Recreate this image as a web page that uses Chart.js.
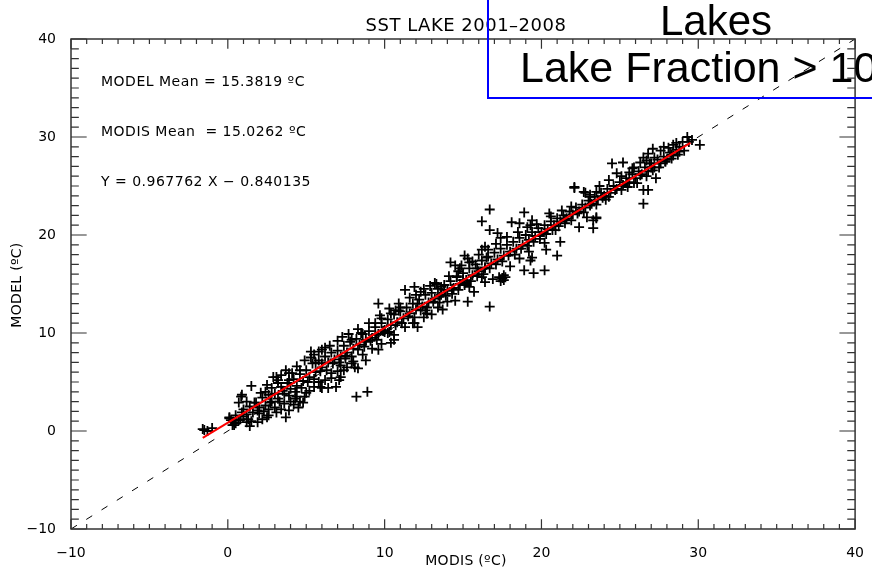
<!DOCTYPE html>
<html>
<head>
<meta charset="utf-8">
<script src="https://cdn.jsdelivr.net/npm/chart.js@4/dist/chart.umd.min.js"></script>
<style>
  html, body { margin: 0; padding: 0; background: #fff; }
  #c { display: block; }
</style>
</head>
<body>
<canvas id="c" width="872" height="571"></canvas>
<script>
// axis ticks (both axes share the same range)
const tickValues = [-10, 0, 10, 20, 30, 40];

// MODIS (x) vs MODEL (y) lake SST
const modisModel = [
  // main band along the fit
  [0.2,1.1],[0.5,1.6],[0.8,1.2],[1.0,2.2],[1.2,1.7],[1.4,2.5],[1.6,1.9],[1.8,2.9],[2.0,2.4],[2.2,3.4],
  [2.4,2.6],[2.6,3.7],[2.8,3.0],[3.0,3.8],[3.2,3.3],[3.4,4.5],[3.6,3.8],[3.8,4.9],[4.0,4.3],[4.2,5.3],
  [4.4,4.6],[4.6,5.8],[4.8,5.1],[5.0,6.2],[5.2,5.5],[5.4,6.9],[5.6,6.0],[5.8,7.2],[6.0,6.5],[6.2,7.6],
  [6.4,7.0],[6.6,8.0],[6.8,7.3],[7.0,8.2],[7.2,7.6],[7.4,8.7],[7.6,8.0],[7.8,9.1],[8.0,8.4],[8.2,9.4],
  [8.4,8.8],[8.6,9.9],[8.8,9.1],[9.0,10.2],[9.2,9.5],[9.4,10.6],[9.6,9.9],[9.8,11.0],[10.0,10.3],[10.2,11.4],
  [10.4,10.8],[10.6,11.9],[10.8,11.1],[11.0,12.2],[11.2,11.5],[11.4,12.6],[11.6,12.0],[11.8,13.0],[12.0,12.4],[12.2,13.4],
  [12.4,12.7],[12.6,13.9],[12.8,13.1],[13.0,14.1],[13.2,13.5],[13.4,14.5],[13.6,13.9],[13.8,14.9],[14.0,14.3],[14.2,15.3],
  [14.4,14.6],[14.6,15.8],[14.8,15.0],[15.0,16.1],[15.2,15.4],[15.4,16.6],[15.6,15.9],[15.8,17.0],[16.0,16.3],[16.2,17.4],
  [16.4,16.7],[16.6,17.8],[16.8,17.1],[17.0,18.2],[17.2,17.5],[17.4,18.6],[17.6,17.9],[17.8,19.0],[18.0,18.3],[18.2,19.3],
  [18.4,18.6],[18.6,19.7],[18.8,19.0],[19.0,20.0],[19.2,19.5],[19.4,20.3],[19.6,19.9],[19.8,20.7],[20.0,20.3],[20.2,21.0],
  [20.4,20.6],[20.6,21.4],[20.8,21.0],[21.0,21.7],[21.2,21.4],[21.4,22.0],[21.6,21.7],[21.8,22.4],[22.0,22.1],[22.2,22.8],
  [22.4,22.4],[22.6,23.1],[22.8,22.8],[23.0,23.5],[23.2,23.2],[23.4,23.9],[23.6,23.6],[23.8,24.3],[24.0,24.0],[24.2,24.7],
  [24.4,24.3],[24.6,25.0],[24.8,24.7],[25.0,25.4],[25.2,25.1],[25.4,25.8],[25.6,25.4],[25.8,26.2],[26.0,25.8],[26.2,26.5],
  [26.4,26.2],[26.6,26.9],[26.8,26.5],[27.0,27.3],[27.2,26.9],[27.4,27.7],[27.6,27.3],[27.8,28.0],[28.0,27.7],[28.2,28.4],
  [28.4,28.1],[28.6,28.7],[28.8,28.5],
  [0.3,0.6],[0.9,1.9],[1.3,1.2],[1.9,2.1],[2.3,2.0],[2.7,2.9],[3.3,3.0],[3.5,4.1],[3.9,3.6],[4.3,4.0],
  [4.7,4.4],[5.1,5.0],[5.5,5.3],[5.9,6.1],[6.3,6.2],[6.7,6.9],[7.1,7.0],[7.5,7.7],[7.9,7.6],[8.3,8.3],
  [8.7,8.6],[9.1,9.2],[9.5,9.3],[9.9,10.2],[10.3,10.1],[10.7,10.8],[11.1,11.0],[11.5,11.7],[11.9,11.6],[12.3,12.3],
  [12.7,12.6],[13.1,13.2],[13.5,13.1],[13.9,13.8],[14.3,14.5],[14.7,14.4],[15.1,15.1],[15.5,15.3],[15.9,15.8],[16.3,16.0],
  [16.7,16.6],[17.1,17.0],[17.5,17.3],[17.9,17.9],[18.3,18.0],[18.7,18.6],[19.1,18.9],[19.5,19.3],[19.9,19.9],[20.3,20.1],
  [20.7,20.5],[21.1,20.9],[21.5,21.6],[21.9,21.5],[22.3,22.2],[22.7,22.3],[23.1,23.0],[23.5,23.1],[23.9,23.8],[24.3,23.9],
  [24.7,24.6],[25.1,24.6],[25.5,25.3],[25.9,25.3],[26.3,26.1],[26.7,26.0],[27.1,26.6],[27.5,26.9],[27.9,27.5],[28.3,27.8],
  [28.7,28.2],[29.1,28.6],
  // lower left
  [-1.6,0.2],[-1.3,0.0],[-1.0,0.3],[-1.5,0.1],[0.1,1.4],[0.4,0.9],[0.85,3.5],[1.5,4.6],
  [0.5,0.8],[1.0,1.5],[1.5,1.0],[2.0,1.8],[2.6,2.2],[1.2,0.9],[0.7,1.1],[0.4,0.6],[0.1,1.3],
  [0.9,3.7],[0.7,2.9],[1.2,3.0],[1.7,2.9],[2.4,4.0],[2.8,4.4],[3.2,4.9],[2.9,5.5],[3.4,5.7],[3.2,5.2],[3.1,5.5],[3.9,5.9],
  [3.1,1.9],[3.7,1.4],[2.5,1.4],[4.2,2.7],[4.6,3.0],[5.0,3.9],[4.4,3.5],[3.9,2.1],[4.5,2.4],[4.8,2.9],
  [4.1,5.9],[4.6,6.2],[3.9,5.2],[5.3,7.5],[5.8,8.1],[6.2,8.5],[5.6,7.0],[6.0,6.9],[5.3,8.1],
  [6.6,5.9],[7.1,5.2],[7.4,6.2],[6.0,4.4],[6.4,4.4],[6.9,4.5],[5.9,4.5],[7.2,5.5],[7.2,6.7],
  [8.3,6.4],[7.9,6.9],[7.5,7.4],[8.1,6.5],[8.8,7.2],[8.2,3.5],[8.9,4.0],
  [8.8,9.3],[9.4,9.8],[10.0,10.1],[7.3,9.6],[7.9,9.3],[8.5,10.0],[9.6,8.3],[10.4,9.0],[10.6,9.8],
  [1.4,0.5],[1.9,0.9],[2.2,1.2],[2.6,1.6],[3.0,2.4],[3.4,2.2],[3.6,2.8],[4.0,3.0],[4.3,3.3],[4.9,3.5],
  [5.2,4.1],[5.5,4.5],[5.8,5.0],[6.2,5.2],[6.6,5.4],[7.0,6.1],[7.6,6.5],[8.0,7.1],[8.6,7.8],[9.2,8.4],[9.8,8.9],
  [2.1,3.9],[2.5,4.7],[3.7,6.2],[4.4,6.6],[4.9,7.2],[5.5,7.8],[6.0,8.3],[6.5,8.7],[7.0,9.2],[7.7,9.9],
  [8.3,10.4],[9.0,11.0],[9.7,11.8],[10.3,12.5],[10.9,13.0],[11.6,13.6],
  // middle
  [9.6,13.0],[9.4,11.0],[9.8,11.5],[10.4,12.0],[10.7,12.3],[10.2,10.0],[10.6,9.3],[11.3,10.6],[11.9,11.0],
  [12.1,13.0],[12.6,12.3],[11.3,14.4],[11.9,14.7],[11.8,11.0],[12.1,10.6],[12.7,12.0],[10.9,12.3],[11.0,12.6],
  [13.2,15.1],[13.6,14.7],[13.5,13.7],[14.0,13.2],[13.8,14.4],[12.3,14.2],[12.9,14.8],[13.4,12.6],[14.3,14.0],
  [14.9,16.9],[15.6,17.3],[13.0,11.9],[12.5,11.6],
  [12.0,13.9],[12.5,14.5],[13.3,15.0],[14.1,15.8],[14.7,16.3],[15.3,17.6],[16.0,18.0],[16.6,18.5],[17.1,19.1],
  [13.7,12.4],[14.5,13.3],[15.7,14.2],[16.9,15.5],[18.0,16.8],[18.6,17.6],[19.2,18.3],
  [16.7,22.6],[16.2,21.4],[18.9,22.3],[20.5,22.2],[16.7,20.5],[17.2,20.2],[17.4,19.7],[17.8,19.8],
  [18.1,21.3],[18.6,21.2],[19.4,21.5],[19.3,21.0],[16.2,18.5],[16.4,18.8],[16.5,17.7],[15.1,17.9],[15.4,17.2],
  [14.2,17.2],[14.5,16.9],[14.8,16.6],[14.6,15.7],[15.0,15.4],[15.4,14.7],[15.1,14.9],[15.3,13.2],[16.7,12.7],
  [16.4,15.2],[16.2,15.7],[17.5,15.6],[17.3,15.7],[17.6,15.4],[17.7,15.7],[17.4,15.3],[17.6,15.9],
  [18.9,16.4],[19.5,16.1],[20.2,16.4],[19.3,17.4],[19.4,17.7],[21.0,17.9],[21.2,19.3],[20.3,18.5],[20.2,19.2],
  [15.9,16.6],[16.4,16.6],[18.5,20.3],[19.1,20.8],[19.7,21.1],[20.6,21.9],[21.3,22.5],[21.9,22.9],
  [19.9,19.6],[20.9,20.5],[21.5,21.2],
  // upper right
  [22.1,24.9],[22.8,24.3],[23.1,23.9],[22.4,20.8],[23.5,21.7],[23.3,20.7],
  [29.3,30.0],[29.4,29.5],[29.6,29.7],[30.1,29.2],[29.0,29.5],[28.8,29.0],[28.4,29.2],[27.8,29.0],
  [27.1,28.8],[26.8,28.3],[27.2,27.9],[24.5,27.3],[25.2,27.4],[24.8,26.3],
  [26.5,27.9],[26.7,27.6],[26.9,27.3],[27.0,26.9],[27.3,25.8],[25.6,26.4],[25.8,26.8],
  [26.5,24.6],[26.8,24.6],[26.5,23.2],[22.7,24.4],[23.1,24.1],[23.5,24.4],[23.5,21.8],[23.3,21.5],[22.9,21.8],
  [22.1,24.8],[23.7,25.0],[24.3,25.6],[25.1,26.0],[25.9,26.9],[26.3,27.4],[24.1,23.6],[25.5,24.9],[26.1,25.3],
  [27.6,28.6],[28.1,28.9],[28.6,29.4],[27.9,27.5],[28.3,28.2]
];

// red fit line end points and the dashed 1:1 line
const fitModis = [-1.6, 29.5];
const fitModel = [-0.7, 29.4];
const oneToOne = [-10, 40];

const titleText = 'SST LAKE 2001\u20132008';
const statLines = ['MODEL Mean = 15.3819 \u00baC', 'MODIS Mean  = 15.0262 \u00baC', 'Y = 0.967762 X \u2212 0.840135'];
const xTitle = 'MODIS (\u00baC)';
const yTitle = 'MODEL (\u00baC)';
const boxLines = ['Lakes', 'Lake Fraction > 10'];

const FONT = '"DejaVu Sans", sans-serif';

const idlFrame = {
  id: 'idlFrame',
  afterDatasetsDraw(chart) {
    const { ctx, chartArea: a, scales: { x, y } } = chart;
    ctx.save();
    ctx.strokeStyle = '#333';
    ctx.lineWidth = 1.5;
    ctx.strokeRect(a.left, a.top, a.right - a.left, a.bottom - a.top);
    ctx.lineWidth = 1.2;
    const xLen = (a.bottom - a.top) * 0.02;
    const yLen = (a.right - a.left) * 0.02;
    ctx.beginPath();
    for (let v = tickValues[0]; v <= tickValues[tickValues.length - 1]; v++) {
      const major = tickValues.includes(v);
      const px = x.getPixelForValue(v), py = y.getPixelForValue(v);
      const lx = major ? xLen : xLen / 2, ly = major ? yLen : yLen / 2;
      ctx.moveTo(px, a.bottom); ctx.lineTo(px, a.bottom - lx);
      ctx.moveTo(px, a.top); ctx.lineTo(px, a.top + lx);
      ctx.moveTo(a.left, py); ctx.lineTo(a.left + ly, py);
      ctx.moveTo(a.right, py); ctx.lineTo(a.right - ly, py);
    }
    ctx.stroke();
    ctx.restore();
  },
  afterDraw(chart) {
    const { ctx } = chart;
    ctx.save();
    ctx.fillStyle = '#000';
    // title
    ctx.font = '18px ' + FONT;
    ctx.letterSpacing = '0.5px';
    ctx.textAlign = 'center';
    ctx.textBaseline = 'alphabetic';
    ctx.fillText(titleText, 466, 31);
    // stats text
    ctx.font = '14px ' + FONT;
    ctx.letterSpacing = '0.5px';
    ctx.textAlign = 'left';
    ctx.textBaseline = 'middle';
    statLines.forEach((s, i) => ctx.fillText(s, 101, 82 + i * 50));
    // axis titles
    ctx.letterSpacing = '0.3px';
    ctx.textAlign = 'center';
    ctx.fillText(xTitle, 466, 561);
    ctx.save();
    ctx.translate(17, 285);
    ctx.rotate(-Math.PI / 2);
    ctx.fillText(yTitle, 0, 0);
    ctx.restore();
    // blue box with legend text
    ctx.letterSpacing = '0px';
    ctx.strokeStyle = '#0000ff';
    ctx.lineWidth = 2;
    ctx.strokeRect(488, -10, 500, 108);
    ctx.font = '42px "Liberation Sans", Arial, sans-serif';
    ctx.textAlign = 'left';
    ctx.textBaseline = 'alphabetic';
    ctx.fillText(boxLines[0], 660, 35);
    ctx.font = '43px "Liberation Sans", Arial, sans-serif';
    ctx.fillText(boxLines[1], 520, 82);
    ctx.restore();
  }
};

const ctx = document.getElementById('c');
const chart = new Chart(ctx, {
  type: 'scatter',
  data: {
    datasets: [{
      label: 'fit',
      data: fitModis.map((v, i) => ({ x: v, y: fitModel[i] })),
      showLine: true,
      borderColor: '#ff0000',
      borderWidth: 2,
      pointRadius: 0,
      order: 0
    }, {
      label: 'lakes',
      data: modisModel.map(p => ({ x: p[0], y: p[1] })),
      pointStyle: 'cross',
      pointRadius: 5,
      borderColor: '#000',
      backgroundColor: '#000',
      borderWidth: 1.8,
      order: 1
    }, {
      label: '1:1',
      data: oneToOne.map(v => ({ x: v, y: v })),
      showLine: true,
      borderColor: '#000',
      borderWidth: 1,
      borderDash: [7, 11],
      pointRadius: 0,
      order: 2
    }]
  },
  options: {
    responsive: false,
    animation: false,
    devicePixelRatio: 1,
    layout: { padding: { top: 39, right: 11, left: 0, bottom: 0 } },
    plugins: { legend: { display: false }, tooltip: { enabled: false } },
    scales: {
      x: {
        type: 'linear',
        min: -10, max: 40,
        grid: { display: false },
        border: { display: false },
        afterBuildTicks: s => { s.ticks = tickValues.map(v => ({ value: v })); },
        afterFit: s => { s.height = 42; },
        ticks: {
          autoSkip: false, maxRotation: 0, padding: 8,
          color: '#000', font: { family: FONT, size: 14 },
          callback: v => String(v).replace('-', '\u2212')
        }
      },
      y: {
        type: 'linear',
        min: -10, max: 40,
        grid: { display: false },
        border: { display: false },
        afterBuildTicks: s => { s.ticks = tickValues.map(v => ({ value: v })); },
        afterFit: s => { s.width = 71; },
        ticks: {
          autoSkip: false, padding: 7,
          color: '#000', font: { family: FONT, size: 14 },
          callback: v => String(v).replace('-', '\u2212')
        }
      }
    }
  },
  plugins: [idlFrame]
});
</script>
</body>
</html>
